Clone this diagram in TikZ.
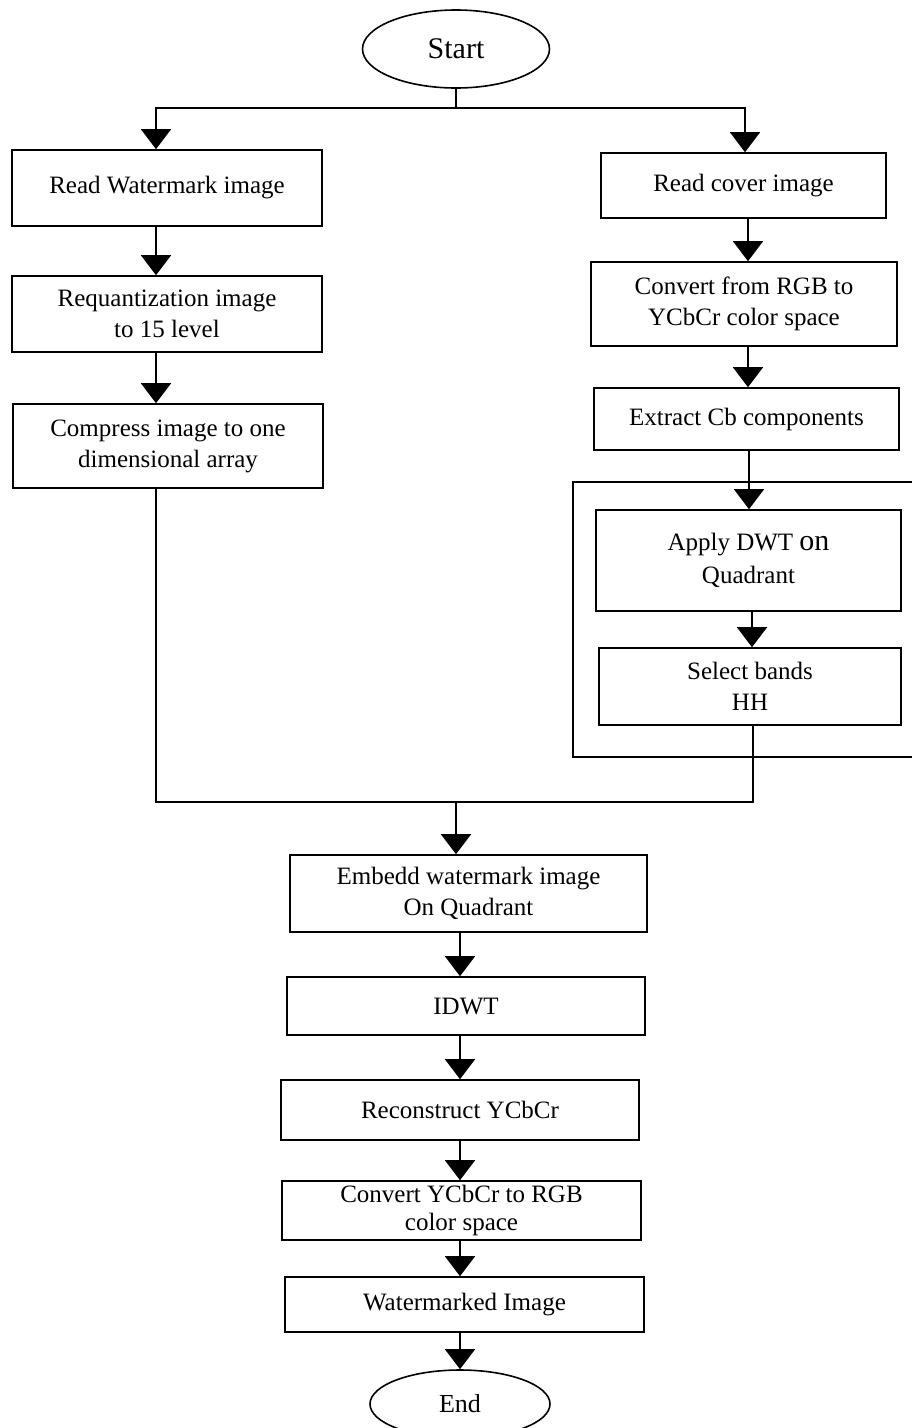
\documentclass[tikz,border=0pt]{standalone}
\usepackage{fontspec}
\setmainfont{Liberation Serif}
\usetikzlibrary{arrows.meta,shapes.geometric}
\begin{document}
\begin{tikzpicture}[x=1pt,y=-1pt,
  every node/.style={font=\fontsize{25}{31}\selectfont},
  stepbox/.style={draw,line width=1.6pt,inner sep=0pt,align=center},
  terminal/.style={draw,ellipse,line width=1.6pt,inner sep=0pt},
  link/.style={line width=1.6pt},
  arr/.style={line width=1.6pt,-{Triangle[width=30pt,length=20pt]}}]
\useasboundingbox (0,0) rectangle (912,1428);

% terminals
\node[terminal,minimum width=187pt,minimum height=78pt,font=\fontsize{30}{32}\selectfont] (start) at (456,49) {Start};
\node[terminal,minimum width=180pt,minimum height=68pt,font=\fontsize{26}{30}\selectfont] (end) at (460,1404) {End};

% watermark branch
\node[stepbox,minimum width=310pt,minimum height=76pt] (b1) at (167,188) {Read Watermark image};
\node[stepbox,minimum width=310pt,minimum height=76pt] (b2) at (167,314) {Requantization image\\ to 15 level};
\node[stepbox,minimum width=310pt,minimum height=84pt] (b3) at (168,446) {Compress image to one\\ dimensional array};

% cover branch
\node[stepbox,minimum width=285pt,minimum height=65pt] (r1) at (743.5,185.5) {Read cover image};
\node[stepbox,minimum width=306pt,minimum height=84pt] (r2) at (744,304) {Convert from RGB to\\ YCbCr color space};
\node[stepbox,minimum width=305pt,minimum height=62pt] (r3) at (746.5,419) {Extract Cb components};
\node[stepbox,minimum width=347pt,minimum height=275pt] (frame) at (746.5,619.5) {};
\node[stepbox,minimum width=305pt,minimum height=101pt] (r4) at (748.5,560.5)
  {Apply DWT {\fontsize{30}{31}\selectfont on}\\[2pt] Quadrant};
\node[stepbox,minimum width=302pt,minimum height=77pt] (r5) at (750,686.5) {Select bands\\ HH};

% merged steps
\node[stepbox,minimum width=357pt,minimum height=77pt] (e1) at (468.5,893.5) {Embedd watermark image\\ On Quadrant};
\node[stepbox,minimum width=358pt,minimum height=58pt] (e2) at (466,1006) {IDWT};
\node[stepbox,minimum width=358pt,minimum height=60pt] (e3) at (460,1110) {Reconstruct YCbCr};
\node[stepbox,minimum width=359pt,minimum height=59pt] (e4) at (461.5,1210.5) {Convert YCbCr to RGB\\[-3pt] color space};
\node[stepbox,minimum width=359pt,minimum height=55pt] (e5) at (464.5,1304.5) {Watermarked Image};

% connector lanes
\coordinate (split) at (456,108);
\coordinate (join) at (456,802);
\coordinate (lx) at (156,0);
\coordinate (rxa) at (745,0);
\coordinate (rxb) at (748,0);
\coordinate (rxc) at (749,0);
\coordinate (rxd) at (752,0);
\coordinate (rxe) at (753,0);
\coordinate (mx) at (460,0);

\draw[link] (start.south) -- (split);
\draw[arr] (split) -| (b1.north -| lx);
\draw[arr] (split) -| (r1.north -| rxa);

\draw[arr] (b1.south -| lx) -- (b2.north -| lx);
\draw[arr] (b2.south -| lx) -- (b3.north -| lx);
\draw[link] (b3.south -| lx) |- (join);

\draw[arr] (r1.south -| rxb) -- (r2.north -| rxb);
\draw[arr] (r2.south -| rxb) -- (r3.north -| rxb);
\draw[arr] (r3.south -| rxc) -- (r4.north -| rxc);
\draw[arr] (r4.south -| rxd) -- (r5.north -| rxd);
\draw[link] (r5.south -| rxe) |- (join);

\draw[arr] (join) -- (e1.north -| join);
\draw[arr] (e1.south -| mx) -- (e2.north -| mx);
\draw[arr] (e2.south -| mx) -- (e3.north -| mx);
\draw[arr] (e3.south -| mx) -- (e4.north -| mx);
\draw[arr] (e4.south -| mx) -- (e5.north -| mx);
\draw[arr] (e5.south -| mx) -- (end.north -| mx);
\end{tikzpicture}
\end{document}
